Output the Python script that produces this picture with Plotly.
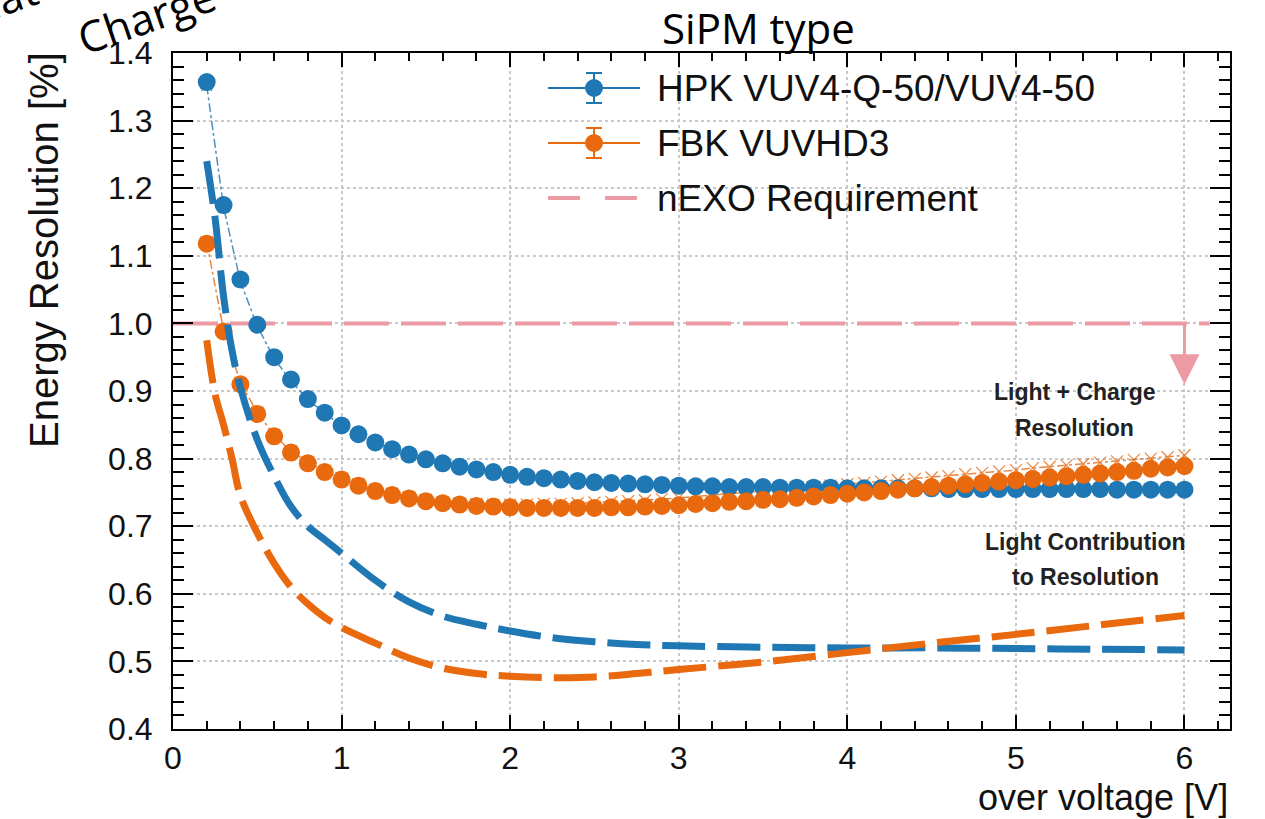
import plotly.graph_objects as go

# ---------------- data ----------------
voltage = [0.2, 0.3, 0.4, 0.5, 0.6, 0.7, 0.8, 0.9, 1.0, 1.1, 1.2, 1.3, 1.4, 1.5, 1.6, 1.7, 1.8, 1.9,
           2.0, 2.1, 2.2, 2.3, 2.4, 2.5, 2.6, 2.7, 2.8, 2.9, 3.0, 3.1, 3.2, 3.3, 3.4, 3.5, 3.6, 3.7,
           3.8, 3.9, 4.0, 4.1, 4.2, 4.3, 4.4, 4.5, 4.6, 4.7, 4.8, 4.9, 5.0, 5.1, 5.2, 5.3, 5.4, 5.5,
           5.6, 5.7, 5.8, 5.9, 6.0]

hpk_total = [1.357, 1.175, 1.065, 0.998, 0.950, 0.917, 0.888, 0.868, 0.849, 0.836, 0.824, 0.814,
             0.806, 0.799, 0.793, 0.788, 0.784, 0.780, 0.776, 0.773, 0.771, 0.769, 0.767, 0.765,
             0.764, 0.763, 0.762, 0.761, 0.760, 0.759, 0.759, 0.758, 0.758, 0.758, 0.757, 0.757,
             0.757, 0.757, 0.756, 0.756, 0.756, 0.756, 0.756, 0.756, 0.755, 0.755, 0.755, 0.755,
             0.755, 0.755, 0.755, 0.755, 0.755, 0.755, 0.754, 0.754, 0.754, 0.754, 0.754]

hpk_variation = [1.352, 1.172, 1.062, 0.996, 0.948, 0.915, 0.887, 0.867, 0.848, 0.835, 0.823, 0.814,
                 0.806, 0.799, 0.793, 0.788, 0.784, 0.780, 0.776, 0.773, 0.771, 0.769, 0.767, 0.765,
                 0.764, 0.763, 0.762, 0.761, 0.760, 0.759, 0.759, 0.758, 0.758, 0.758, 0.757, 0.757,
                 0.757, 0.757, 0.756, 0.756, 0.756, 0.756, 0.756, 0.756, 0.755, 0.755, 0.755, 0.755,
                 0.755, 0.755, 0.755, 0.755, 0.755, 0.755, 0.754, 0.754, 0.754, 0.754, 0.754]

fbk_total = [1.118, 0.988, 0.910, 0.866, 0.833, 0.809, 0.793, 0.780, 0.769, 0.760, 0.752, 0.746,
             0.741, 0.737, 0.734, 0.732, 0.730, 0.729, 0.728, 0.727, 0.727, 0.727, 0.727, 0.727,
             0.728, 0.728, 0.729, 0.730, 0.731, 0.733, 0.734, 0.736, 0.737, 0.739, 0.740, 0.742,
             0.744, 0.746, 0.748, 0.750, 0.752, 0.754, 0.756, 0.758, 0.760, 0.762, 0.764, 0.766,
             0.768, 0.770, 0.772, 0.774, 0.776, 0.778, 0.780, 0.782, 0.785, 0.787, 0.789]

fbk_variation = [1.120, 0.990, 0.912, 0.868, 0.835, 0.811, 0.795, 0.782, 0.771, 0.762, 0.754, 0.748,
                 0.743, 0.739, 0.736, 0.734, 0.733, 0.732, 0.732, 0.732, 0.733, 0.733, 0.734, 0.735,
                 0.736, 0.737, 0.738, 0.740, 0.742, 0.744, 0.746, 0.748, 0.750, 0.752, 0.754, 0.756,
                 0.758, 0.760, 0.762, 0.764, 0.766, 0.768, 0.770, 0.772, 0.774, 0.777, 0.779, 0.781,
                 0.783, 0.786, 0.788, 0.790, 0.792, 0.794, 0.796, 0.798, 0.800, 0.802, 0.805]

light_voltage = [0.2, 0.25, 0.3, 0.35, 0.4, 0.5, 0.6, 0.7, 0.8, 0.9, 1.0, 1.2, 1.4, 1.6, 1.8, 2.0,
                 2.25, 2.5, 2.75, 3.0, 3.5, 4.0, 4.5, 5.0, 5.5, 6.0]
hpk_light = [1.24, 1.155, 1.04, 0.96, 0.905, 0.828, 0.774, 0.729, 0.700, 0.680, 0.660, 0.620,
             0.588, 0.567, 0.555, 0.545, 0.535, 0.529, 0.525, 0.523, 0.521, 0.520, 0.520, 0.519,
             0.518, 0.517]
fbk_light = [0.975, 0.895, 0.850, 0.800, 0.745, 0.690, 0.645, 0.610, 0.585, 0.565, 0.550, 0.527,
             0.505, 0.490, 0.482, 0.478, 0.476, 0.477, 0.482, 0.488, 0.499, 0.513, 0.527, 0.540,
             0.554, 0.568]

requirement_x = [0.0, 6.15]
requirement_y = [1.0, 1.0]

x_ticks = [0, 1, 2, 3, 4, 5, 6]
y_ticks = [0.4, 0.5, 0.6, 0.7, 0.8, 0.9, 1.0, 1.1, 1.2, 1.3, 1.4]

legend_labels = ["HPK VUV4-Q-50/VUV4-50", "FBK VUVHD3", "nEXO Requirement"]

# ---------------- style ----------------
BLUE = "#1f77b4"
ORANGE = "#e8690e"
PINK = "#ec9aa4"
FONT = "Liberation Sans, Arial, sans-serif"

W, H = 1265, 819
L, R, T, B = 173, 35, 53, 90
PW, PH = W - L - R, H - T - B


def px_x(p):
    return (p - L) / PW


def px_y(p):
    return (H - B - p) / PH


fig = go.Figure()

# requirement line
fig.add_trace(go.Scatter(x=requirement_x, y=requirement_y, mode="lines",
                         line=dict(color=PINK, width=4, dash="45px,12px"),
                         showlegend=False, hoverinfo="skip"))

# variation (x markers + thin dash-dot lines)
fig.add_trace(go.Scatter(x=voltage, y=hpk_variation, mode="lines+markers",
                         line=dict(color=BLUE, width=1.5, dash="dashdot"),
                         marker=dict(symbol="x-thin-open", size=11, line=dict(color=BLUE, width=1.2)),
                         opacity=0.8, showlegend=False, hoverinfo="skip"))
fig.add_trace(go.Scatter(x=voltage, y=fbk_variation, mode="lines+markers",
                         line=dict(color=ORANGE, width=1.5, dash="dashdot"),
                         marker=dict(symbol="x-thin-open", size=12, line=dict(color=ORANGE, width=1.2)),
                         opacity=0.8, showlegend=False, hoverinfo="skip"))

# total resolution points
fig.add_trace(go.Scatter(x=voltage, y=hpk_total, mode="markers", name=legend_labels[0],
                         marker=dict(color=BLUE, size=18, line=dict(width=0)), showlegend=False))
fig.add_trace(go.Scatter(x=voltage, y=fbk_total, mode="markers", name=legend_labels[1],
                         marker=dict(color=ORANGE, size=18, line=dict(width=0)), showlegend=False))

# light contribution dashed curves
fig.add_trace(go.Scatter(x=light_voltage, y=hpk_light, mode="lines", line_shape="spline",
                         line=dict(color=BLUE, width=7, dash="43px,12px"),
                         showlegend=False, hoverinfo="skip"))
fig.add_trace(go.Scatter(x=light_voltage, y=fbk_light, mode="lines", line_shape="spline",
                         line=dict(color=ORANGE, width=7, dash="43px,12px"),
                         showlegend=False, hoverinfo="skip"))

axis_common = dict(
    showline=True, linewidth=2, linecolor="black", mirror="ticks",
    ticks="inside", tickwidth=2, tickcolor="black",
    showgrid=True, gridcolor="#c8c8c8", griddash="dot", gridwidth=1.5,
    zeroline=False, tickfont=dict(family=FONT, size=32, color="#111111"),
)

fig.update_xaxes(range=[0, 6.27], tickvals=x_ticks, ticklen=14, ticklabelstandoff=0,
                 minor=dict(dtick=0.2, ticks="inside", ticklen=8, tickwidth=1.5,
                            tickcolor="black", showgrid=False),
                 **axis_common)
fig.update_yaxes(range=[0.4, 1.4], tickvals=y_ticks, tickformat=".1f", ticklen=20,
                 ticklabelstandoff=12,
                 minor=dict(dtick=0.02, ticks="inside", ticklen=11, tickwidth=1.5,
                            tickcolor="black", showgrid=False),
                 **axis_common)

annotations = []
shapes = []

# arrow from the requirement line
annotations.append(dict(x=6, y=0.91, ax=6, ay=1.0, xref="x", yref="y", axref="x", ayref="y",
                        text="", showarrow=True, arrowhead=2, arrowsize=2.0, arrowwidth=3,
                        arrowcolor=PINK))

# in-plot labels
for txt, xv, yv in [("Light + Charge", 5.35, 0.898), ("Resolution", 5.35, 0.845),
                    ("Light Contribution", 5.41, 0.676), ("to Resolution", 5.41, 0.625)]:
    annotations.append(dict(x=xv, y=yv, xref="x", yref="y", text=f"<b>{txt}</b>",
                            xanchor="center", yanchor="middle",
                            showarrow=False, font=dict(family=FONT, size=23, color="#222222")))

# axis titles
annotations.append(dict(x=1.0, y=px_y(798), xref="paper", yref="paper", xanchor="right",
                        yanchor="middle", text="over voltage [V]", showarrow=False,
                        font=dict(family=FONT, size=36, color="#111111")))
annotations.append(dict(x=px_x(44), y=px_y(50), xref="paper", yref="paper", xanchor="center",
                        yanchor="top", textangle=-90, text="Energy Resolution [%]",
                        showarrow=False, font=dict(family=FONT, size=40, color="#111111")))

# legend header
annotations.append(dict(x=px_x(758), y=px_y(28), xref="paper", yref="paper", text="SiPM type",
                        xanchor="center", yanchor="middle",
                        showarrow=False, font=dict(family="Open Sans, sans-serif", size=42,
                                                   color="black")))

# slide fragment at top-left
annotations.append(dict(x=px_x(146), y=px_y(16), xref="paper", yref="paper", text="Charge",
                        xanchor="center", yanchor="middle",
                        textangle=-19, showarrow=False,
                        font=dict(family="Open Sans, sans-serif", size=43, color="black")))
annotations.append(dict(x=px_x(12), y=px_y(-4), xref="paper", yref="paper", text="ıat",
                        xanchor="center", yanchor="middle",
                        textangle=-19, showarrow=False,
                        font=dict(family="Open Sans, sans-serif", size=43, color="black")))

# manual legend
rows = [88, 143, 198]
lx0, lx1, lxc = px_x(548), px_x(640), px_x(594)
for i, (lab, col) in enumerate([(legend_labels[0], BLUE), (legend_labels[1], ORANGE)]):
    yc = px_y(rows[i])
    shapes.append(dict(type="line", xref="paper", yref="paper", x0=lx0, x1=lx1, y0=yc, y1=yc,
                       line=dict(color=col, width=2)))
    shapes.append(dict(type="line", xref="paper", yref="paper", x0=lxc, x1=lxc,
                       y0=px_y(rows[i] - 15), y1=px_y(rows[i] + 15), line=dict(color=col, width=2)))
    for dy in (-15, 15):
        shapes.append(dict(type="line", xref="paper", yref="paper", x0=px_x(586), x1=px_x(602),
                           y0=px_y(rows[i] + dy), y1=px_y(rows[i] + dy),
                           line=dict(color=col, width=2)))
    shapes.append(dict(type="circle", xref="paper", yref="paper", x0=px_x(585), x1=px_x(603),
                       y0=px_y(rows[i] + 9), y1=px_y(rows[i] - 9), fillcolor=col,
                       line=dict(color=col, width=0)))
yc = px_y(rows[2])
for a, b in [(548, 580), (605, 637)]:
    shapes.append(dict(type="line", xref="paper", yref="paper", x0=px_x(a), x1=px_x(b), y0=yc,
                       y1=yc, line=dict(color=PINK, width=4)))
for i, lab in enumerate(legend_labels):
    annotations.append(dict(x=px_x(655), y=px_y(rows[i]), xref="paper", yref="paper",
                            xanchor="left", yanchor="middle", text=lab, showarrow=False,
                            font=dict(family=FONT, size=37, color="#111111")))

fig.update_layout(
    width=W, height=H,
    margin=dict(l=L, r=R, t=T, b=B),
    plot_bgcolor="white", paper_bgcolor="white",
    showlegend=False,
    annotations=annotations, shapes=shapes,
)

fig.write_html("out.html")
